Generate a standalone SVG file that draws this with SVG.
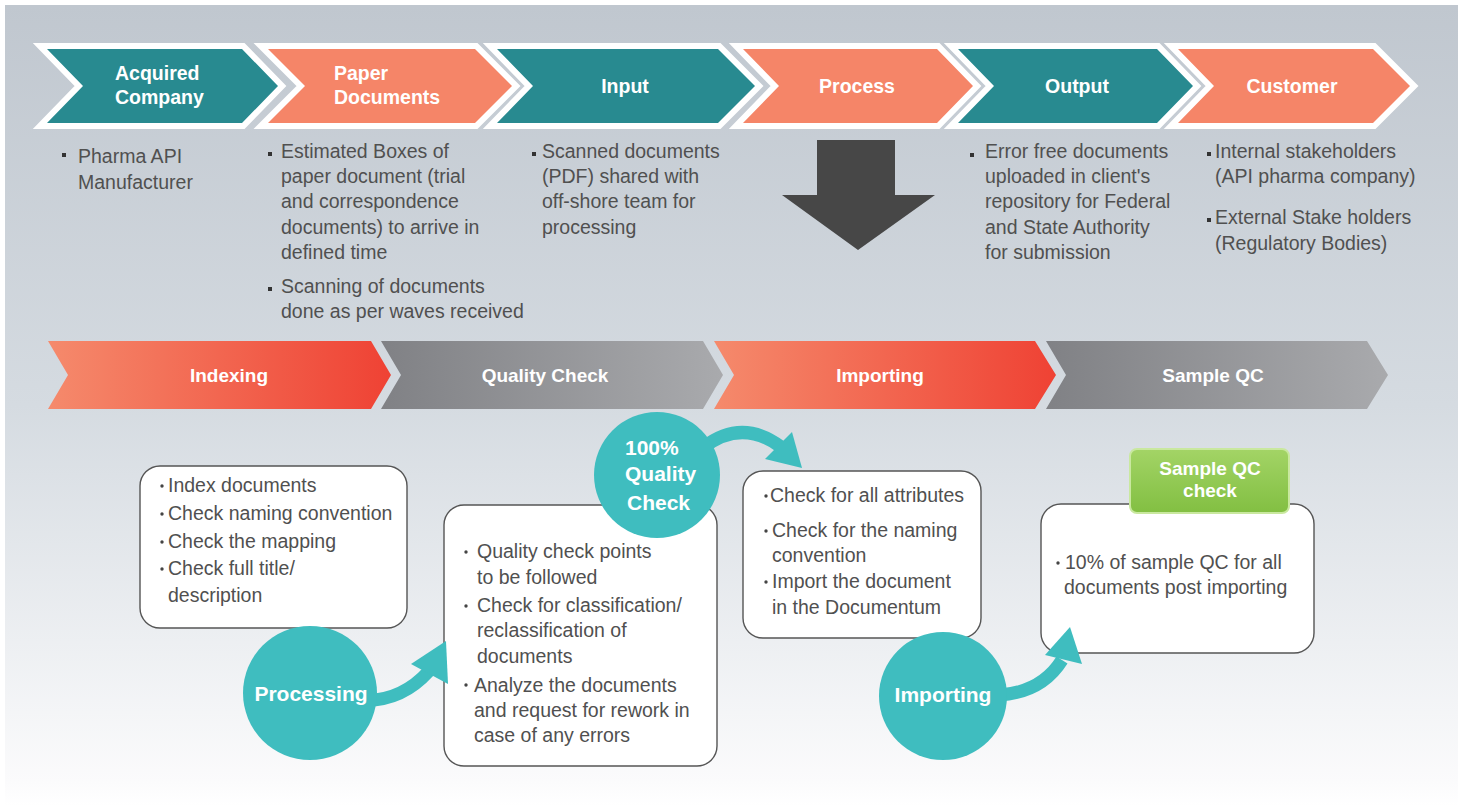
<svg xmlns="http://www.w3.org/2000/svg" width="1460" height="806" viewBox="0 0 1460 806">
<defs>
<linearGradient id="bg" x1="0" y1="0" x2="0" y2="1">
<stop offset="0" stop-color="#c0c7cf"/>
<stop offset="0.5" stop-color="#d5dbe1"/>
<stop offset="0.97" stop-color="#fbfbfc"/>
<stop offset="1" stop-color="#ffffff"/>
</linearGradient>
<linearGradient id="red" x1="0" y1="0" x2="1" y2="0">
<stop offset="0" stop-color="#f58a6c"/>
<stop offset="1" stop-color="#ef4234"/>
</linearGradient>
<linearGradient id="grey" x1="0" y1="0" x2="1" y2="0">
<stop offset="0" stop-color="#808185"/>
<stop offset="1" stop-color="#a9aaad"/>
</linearGradient>
<linearGradient id="green" x1="0" y1="0" x2="0" y2="1">
<stop offset="0" stop-color="#a3d466"/>
<stop offset="1" stop-color="#82bf42"/>
</linearGradient>
<style>
.chev{stroke:#ffffff;stroke-width:12;paint-order:stroke;stroke-linejoin:miter}
.teal{fill:#288a90}
.coral{fill:#f58568}
.ht{font-family:"Liberation Sans",Arial,sans-serif;font-weight:bold;font-size:19.5px;fill:#ffffff}
.bt{font-family:"Liberation Sans",Arial,sans-serif;font-weight:bold;font-size:19px;fill:#ffffff;text-anchor:middle}
.body{font-family:"Liberation Sans",Arial,sans-serif;font-size:19.5px;fill:#505050}
.sq{fill:#333333}
.box{fill:#ffffff;stroke:#555555;stroke-width:1.4}
.dot{fill:#444444}
.circ{fill:#3fbdbf}
.ct{font-family:"Liberation Sans",Arial,sans-serif;font-weight:bold;font-size:21px;fill:#ffffff}
.band{fill:none;stroke:#3fbdbf;stroke-width:13}
.head{fill:#3fbdbf}
</style>
</defs>
<rect x="0" y="0" width="1460" height="806" fill="#ffffff"/>
<rect x="5" y="5" width="1453" height="801" fill="url(#bg)"/>

<g id="top-acquired">
<polygon class="chev teal" points="47,49 242,49 278,86 242,123 47,123 83,86"/>
<text class="ht" x="115" y="80">Acquired</text>
<text class="ht" x="115" y="104">Company</text>
</g>
<g id="top-paper">
<polygon class="chev coral" points="268,49 475,49 512,86 475,123 268,123 305,86"/>
<text class="ht" x="334" y="80">Paper</text>
<text class="ht" x="334" y="104">Documents</text>
</g>
<g id="top-input">
<polygon class="chev teal" points="497,49 718,49 755,86 718,123 497,123 533,86"/>
<text class="ht" x="625" y="93" text-anchor="middle">Input</text>
</g>
<g id="top-process">
<polygon class="chev coral" points="743,49 937,49 973,86 937,123 743,123 779,86"/>
<text class="ht" x="857" y="93" text-anchor="middle">Process</text>
</g>
<g id="top-output">
<polygon class="chev teal" points="958,49 1157,49 1193,86 1157,123 958,123 994,86"/>
<text class="ht" x="1077" y="93" text-anchor="middle">Output</text>
</g>
<g id="top-customer">
<polygon class="chev coral" points="1178,49 1373,49 1410,86 1373,123 1178,123 1214,86"/>
<text class="ht" x="1292" y="93" text-anchor="middle">Customer</text>
</g>

<g id="desc-acquired">
<rect class="sq" x="62" y="153" width="4" height="4"/>
<text class="body" x="78" y="163">Pharma API</text>
<text class="body" x="78" y="189">Manufacturer</text>
</g>
<g id="desc-paper">
<rect class="sq" x="268" y="152" width="4" height="4"/>
<text class="body" x="281" y="158">Estimated Boxes of</text>
<text class="body" x="281" y="183">paper document (trial</text>
<text class="body" x="281" y="208">and correspondence</text>
<text class="body" x="281" y="234">documents) to arrive in</text>
<text class="body" x="281" y="259">defined time</text>
<rect class="sq" x="268" y="287" width="4" height="4"/>
<text class="body" x="281" y="293">Scanning of documents</text>
<text class="body" x="281" y="318">done as per waves received</text>
</g>
<g id="desc-input">
<rect class="sq" x="532" y="152" width="4" height="4"/>
<text class="body" x="542" y="158">Scanned documents</text>
<text class="body" x="542" y="183">(PDF) shared with</text>
<text class="body" x="542" y="208">off-shore team for</text>
<text class="body" x="542" y="234">processing</text>
</g>
<g id="desc-output">
<rect class="sq" x="970" y="153" width="4" height="4"/>
<text class="body" x="985" y="158">Error free documents</text>
<text class="body" x="985" y="183">uploaded in client's</text>
<text class="body" x="985" y="208">repository for Federal</text>
<text class="body" x="985" y="234">and State Authority</text>
<text class="body" x="985" y="259">for submission</text>
</g>
<g id="desc-customer">
<rect class="sq" x="1207" y="152" width="4" height="4"/>
<text class="body" x="1215" y="158">Internal stakeholders</text>
<text class="body" x="1215" y="183">(API pharma company)</text>
<rect class="sq" x="1207" y="218" width="4" height="4"/>
<text class="body" x="1215" y="224">External Stake holders</text>
<text class="body" x="1215" y="250">(Regulatory Bodies)</text>
</g>

<g id="stage-indexing">
<polygon fill="url(#red)" points="48,341 371,341 391,375 371,409 48,409 68,375"/>
<text class="bt" x="229" y="382">Indexing</text>
</g>
<g id="stage-quality">
<polygon fill="url(#grey)" points="381,341 703,341 723,375 703,409 381,409 401,375"/>
<text class="bt" x="545" y="382">Quality Check</text>
</g>
<g id="stage-importing">
<polygon fill="url(#red)" points="714,341 1035,341 1056,375 1035,409 714,409 734,375"/>
<text class="bt" x="880" y="382">Importing</text>
</g>
<g id="stage-sampleqc">
<polygon fill="url(#grey)" points="1046,341 1367,341 1388,375 1367,409 1046,409 1066,375"/>
<text class="bt" x="1213" y="382">Sample QC</text>
</g>

<g id="box-indexing">
<rect class="box" x="140" y="466" width="267" height="162" rx="20"/>
<circle class="dot" cx="162" cy="486" r="1.7"/>
<text class="body" x="168" y="492">Index documents</text>
<circle class="dot" cx="162" cy="514" r="1.7"/>
<text class="body" x="168" y="520">Check naming convention</text>
<circle class="dot" cx="162" cy="542" r="1.7"/>
<text class="body" x="168" y="548">Check the mapping</text>
<circle class="dot" cx="162" cy="569" r="1.7"/>
<text class="body" x="168" y="575">Check full title/</text>
<text class="body" x="168" y="602">description</text>
</g>
<g id="box-quality">
<rect class="box" x="444" y="505" width="273" height="261" rx="20"/>
<circle class="dot" cx="466" cy="552" r="1.7"/>
<text class="body" x="477" y="558">Quality check points</text>
<text class="body" x="477" y="584">to be followed</text>
<circle class="dot" cx="466" cy="606" r="1.7"/>
<text class="body" x="477" y="612">Check for classification/</text>
<text class="body" x="477" y="637">reclassification of</text>
<text class="body" x="477" y="663">documents</text>
<circle class="dot" cx="466" cy="685" r="1.7"/>
<text class="body" x="474" y="692">Analyze the documents</text>
<text class="body" x="474" y="717">and request for rework in</text>
<text class="body" x="474" y="742">case of any errors</text>
</g>
<g id="box-importing">
<rect class="box" x="743" y="471" width="238" height="167" rx="20"/>
<circle class="dot" cx="766" cy="496" r="1.7"/>
<text class="body" x="770" y="502">Check for all attributes</text>
<circle class="dot" cx="766" cy="531" r="1.7"/>
<text class="body" x="772" y="537">Check for the naming</text>
<text class="body" x="772" y="562">convention</text>
<circle class="dot" cx="766" cy="582" r="1.7"/>
<text class="body" x="772" y="588">Import the document</text>
<text class="body" x="772" y="614">in the Documentum</text>
</g>
<g id="box-sampleqc">
<rect class="box" x="1041" y="504" width="273" height="149" rx="20"/>
<circle class="dot" cx="1058" cy="563" r="1.7"/>
<text class="body" x="1065" y="569">10% of sample QC for all</text>
<text class="body" x="1064" y="594">documents post importing</text>
</g>

<g id="connectors">
<polygon fill="#474747" points="817,140 895,140 895,195 935,195 858,250 782,195 817,195"/>
<path class="band" d="M 360 700 Q 400 703 429 671"/>
<polygon class="head" points="411,664 446,641 448,684"/>
<path class="band" d="M 704 447 Q 742 418 781 447"/>
<polygon class="head" points="765,459 792,432 802,468"/>
<path class="band" d="M 1000 695 Q 1042 692 1062 660"/>
<polygon class="head" points="1045,655 1070,627 1082,664"/>
</g>

<g id="circle-processing">
<circle class="circ" cx="310" cy="693" r="67"/>
<text class="ct" x="311" y="701" text-anchor="middle">Processing</text>
</g>
<g id="circle-quality">
<circle class="circ" cx="657" cy="475" r="63"/>
<text class="ct" x="625" y="455">100%</text>
<text class="ct" x="625" y="481">Quality</text>
<text class="ct" x="627" y="510">Check</text>
</g>
<g id="circle-importing">
<circle class="circ" cx="943" cy="696" r="64"/>
<text class="ct" x="943" y="702" text-anchor="middle">Importing</text>
</g>

<g id="label-sampleqc">
<rect x="1130" y="449" width="159" height="64" rx="7" fill="url(#green)" stroke="#c9e89f" stroke-width="2"/>
<text class="bt" x="1210" y="475">Sample QC</text>
<text class="bt" x="1210" y="497">check</text>
</g>
</svg>
